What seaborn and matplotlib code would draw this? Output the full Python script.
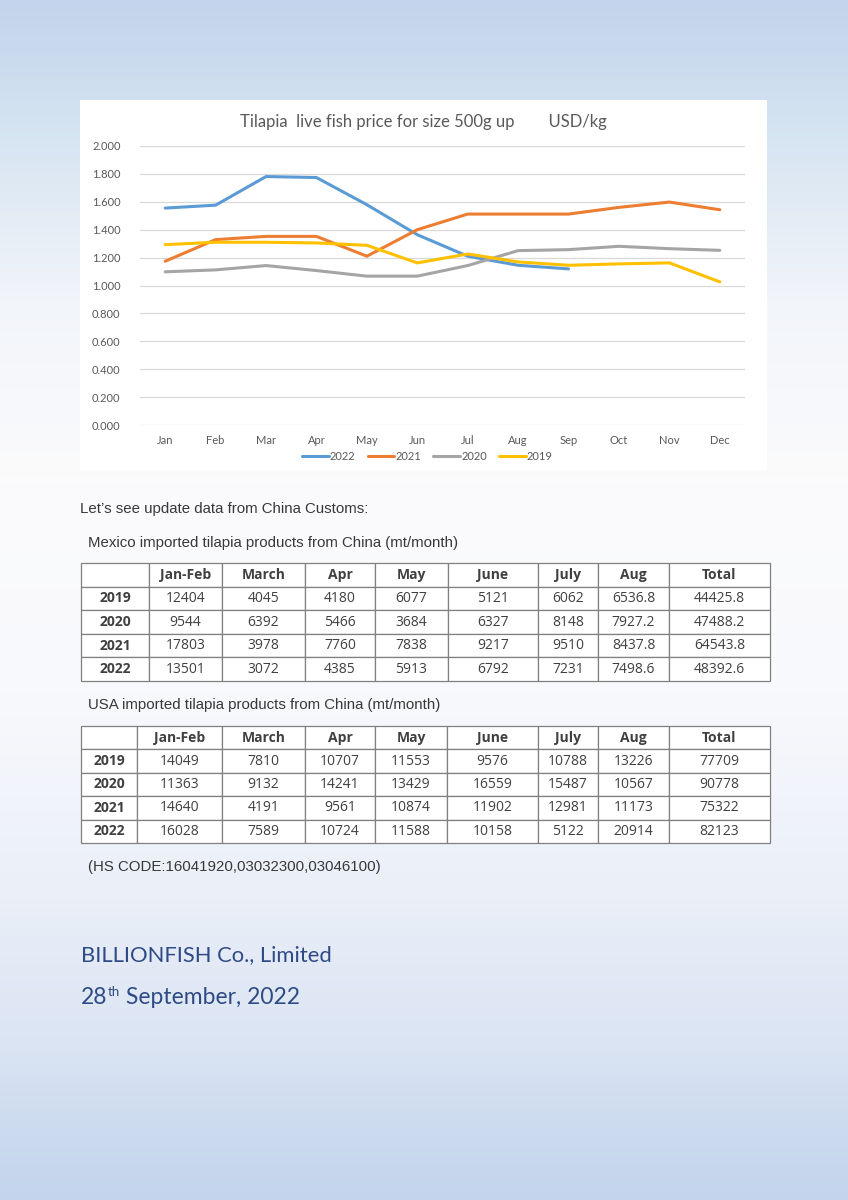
import numpy as np
import pandas as pd
import matplotlib.pyplot as plt
import seaborn as sns
from matplotlib.colors import LinearSegmentedColormap
from matplotlib.patches import Rectangle

sns.set_theme(style="white")
plt.rcParams['font.family'] = ['Liberation Sans', 'DejaVu Sans']

months = ["Jan", "Feb", "Mar", "Apr", "May", "Jun", "Jul", "Aug", "Sep", "Oct", "Nov", "Dec"]
years = ["2022", "2021", "2020", "2019"]

# price USD/kg
price_2022 = [1.555, 1.576, 1.781, 1.774, 1.579, 1.364, 1.210, 1.145, 1.119]
price_2021 = [1.174, 1.329, 1.352, 1.352, 1.210, 1.400, 1.512, 1.512, 1.512, 1.560, 1.598, 1.543]
price_2020 = [1.098, 1.112, 1.143, 1.107, 1.067, 1.067, 1.143, 1.250, 1.257, 1.281, 1.264, 1.252]
price_2019 = [1.293, 1.310, 1.310, 1.305, 1.288, 1.162, 1.226, 1.169, 1.145, 1.155, 1.162, 1.026]

colors = ["#5B9BD5", "#ED7D31", "#A5A5A5", "#FFC000"]

table_cols = ["", "Jan-Feb", "March", "Apr", "May", "June", "July", "Aug", "Total"]
table_years = ["2019", "2020", "2021", "2022"]
mexico = [
    ["12404", "4045", "4180", "6077", "5121", "6062", "6536.8", "44425.8"],
    ["9544", "6392", "5466", "3684", "6327", "8148", "7927.2", "47488.2"],
    ["17803", "3978", "7760", "7838", "9217", "9510", "8437.8", "64543.8"],
    ["13501", "3072", "4385", "5913", "6792", "7231", "7498.6", "48392.6"],
]
usa = [
    ["14049", "7810", "10707", "11553", "9576", "10788", "13226", "77709"],
    ["11363", "9132", "14241", "13429", "16559", "15487", "10567", "90778"],
    ["14640", "4191", "9561", "10874", "11902", "12981", "11173", "75322"],
    ["16028", "7589", "10724", "11588", "10158", "5122", "20914", "82123"],
]

W, H = 848, 1200
fig = plt.figure(figsize=(W / 100, H / 100), dpi=100)

# page background gradient
bg = fig.add_axes([0, 0, 1, 1], zorder=-10)
cmap = LinearSegmentedColormap.from_list("page", [
    (0.0, "#c4d4ec"), (0.085, "#d1e1f0"), (0.25, "#f2f5fa"), (0.40, "#fbfbfc"),
    (0.58, "#f8f9fc"), (0.75, "#eaeff8"), (0.875, "#dae4f3"), (0.95, "#cbdaee"),
    (1.0, "#c4d4ec")])
bg.imshow(np.linspace(0, 1, 400).reshape(-1, 1), aspect="auto", cmap=cmap,
          extent=[0, 1, 0, 1])
bg.axis("off")

def fx(px):
    return px / W

def fy(py):
    return 1 - py / H

# white chart box
fig.patches.append(Rectangle((fx(80), fy(470)), fx(767) - fx(80), (470 - 100) / H,
                             transform=fig.transFigure, facecolor="white",
                             edgecolor="none", zorder=-5))

rows = []
for yr, vals in zip(years, [price_2022, price_2021, price_2020, price_2019]):
    for m, v in zip(months, vals):
        rows.append({"Month": months.index(m), "Price": v, "Year": yr})
df = pd.DataFrame(rows)

ax = fig.add_axes([fx(140), fy(425), fx(745) - fx(140), (425 - 146) / H])
ax.set_facecolor("none")
sns.lineplot(data=df, x="Month", y="Price", hue="Year", hue_order=years,
             palette=colors, linewidth=2.2, ax=ax, legend=False)
ax.set_xlim(-0.5, 11.5)
ax.set_ylim(0, 2.0)
ax.set_yticks(np.arange(0, 2.01, 0.2))
ax.set_yticklabels([f"{v:.3f}" for v in np.arange(0, 2.01, 0.2)])
ax.set_xticks(range(12))
ax.set_xticklabels(months)
ax.tick_params(axis="both", length=0, labelsize=8, colors="#595959", pad=7)
ax.tick_params(axis="y", pad=14)
for lab in ax.get_xticklabels() + ax.get_yticklabels():
    lab.set_fontfamily("Lato")
ax.grid(axis="y", color="#d9d9d9", linewidth=0.9)
ax.set_axisbelow(True)
for s in ax.spines.values():
    s.set_visible(False)
ax.set_xlabel("")
ax.set_ylabel("")

handles = [plt.Line2D([], [], color=c, linewidth=2.2) for c in colors]
leg = ax.legend(handles, years, loc="center", bbox_to_anchor=(0.475, -0.112),
                ncol=4, frameon=False, handlelength=2.4, handletextpad=0.1,
                columnspacing=1.1, prop={"family": "Lato", "size": 8})
for t in leg.get_texts():
    t.set_color("#595959")

fig.text(fx(423), fy(122), "Tilapia  live fish price for size 500g up        USD/kg",
         ha="center", va="center", fontsize=12, color="#595959", family="Lato")

# text block
txt = "#383838"
fig.text(fx(80), fy(509), "Let\u2019s see update data from China Customs:",
         fontsize=10.8, color=txt, va="center")
fig.text(fx(88), fy(543), "Mexico imported tilapia products from China (mt/month)",
         fontsize=10.8, color=txt, va="center")
fig.text(fx(88), fy(705), "USA imported tilapia products from China (mt/month)",
         fontsize=10.8, color=txt, va="center")
fig.text(fx(88), fy(867), "(HS CODE:16041920,03032300,03046100)",
         fontsize=10.8, color=txt, va="center")


def draw_table(top, bottom, widths, data):
    tax = fig.add_axes([fx(81), fy(bottom), fx(770) - fx(81), (bottom - top) / H])
    tax.axis("off")
    cells = [table_cols] + [[y] + r for y, r in zip(table_years, data)]
    tot = sum(widths)
    tb = tax.table(cellText=cells, colWidths=[w / tot for w in widths],
                   cellLoc="center", bbox=[0, 0, 1, 1])
    tb.auto_set_font_size(False)
    for (r, c), cell in tb.get_celld().items():
        cell.set_edgecolor("#808080")
        cell.set_linewidth(0.9)
        cell.set_facecolor("white")
        t = cell.get_text()
        t.set_fontsize(10)
        t.set_color("#404040")
        t.set_fontfamily("Open Sans")
        if r == 0 or c == 0:
            t.set_fontweight("bold")


draw_table(563, 681, [68, 73, 83, 70, 73, 90, 60, 71, 101], mexico)
draw_table(726, 843, [56, 85, 83, 70, 72, 91, 60, 71, 101], usa)

# company footer
blue = "#2f4b85"
fig.text(fx(81), fy(955), "BILLIONFISH Co., Limited", fontsize=15.8, color=blue,
         family="Lato", va="center")
t1 = fig.text(fx(81), fy(998), "28", fontsize=16.5, color=blue, family="Lato",
              va="center")
fig.canvas.draw()
r = fig.canvas.get_renderer()
x1 = t1.get_window_extent(r).x1 / W
t2 = fig.text(x1, fy(992), "th", fontsize=9.5, color=blue, family="Lato",
              va="center")
x2 = t2.get_window_extent(r).x1 / W
fig.text(x2, fy(998), " September, 2022", fontsize=16.5, color=blue, family="Lato",
         va="center")

fig.savefig("out.png", dpi=100)
